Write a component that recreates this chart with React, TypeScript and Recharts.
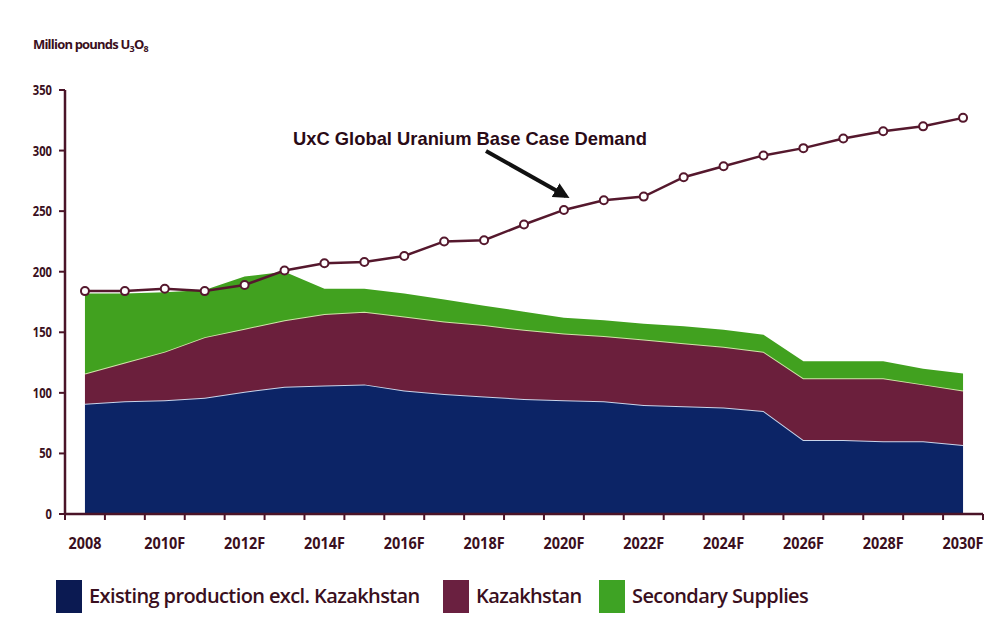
import { ComposedChart, Area, Line, XAxis, YAxis, Customized } from "recharts";

const years = [2008, 2009, 2010, 2011, 2012, 2013, 2014, 2015, 2016, 2017, 2018, 2019, 2020, 2021, 2022, 2023, 2024, 2025, 2026, 2027, 2028, 2029, 2030];
const existingProduction = [91, 93, 94, 96, 101, 105, 106, 107, 102, 99, 97, 95, 94, 93, 90, 89, 88, 85, 61, 61, 60, 60, 57];
const kazakhstan = [25, 32, 40, 50, 52, 55, 59, 60, 61, 60, 59, 57, 55, 54, 54, 52, 50, 49, 51, 51, 52, 47, 45];
const secondarySupplies = [66, 57, 49, 39, 43, 40, 21, 19, 19, 18, 16, 15, 13, 13, 13, 14, 14, 14, 14, 14, 14, 13, 14];
const baseCaseDemand = [184, 184, 186, 184, 189, 201, 207, 208, 213, 225, 226, 239, 251, 259, 262, 278, 287, 296, 302, 310, 316, 320, 327];
const yTicks = [0, 50, 100, 150, 200, 250, 300, 350];

const legendItems = [
  { label: "Existing production excl. Kazakhstan", color: "#0b1a52", x: 56 },
  { label: "Kazakhstan", color: "#6a2040", x: 443 },
  { label: "Secondary Supplies", color: "#3ea324", x: 599 },
];

const data = years.map((year, i) => ({
  year,
  existing: existingProduction[i],
  kazakhstan: kazakhstan[i],
  secondary: secondarySupplies[i],
  demand: baseCaseDemand[i],
}));

// tick marks sit between the years, labels on every other year
const xTicks = [years[0] - 0.5, ...years.flatMap((y) => [y, y + 0.5])];

const AXIS = "#4a1428";
const TEXT = "#3a0f20";

function XTick(props: any) {
  const { x, y, payload } = props;
  const v = payload.value;
  if (v % 1 !== 0) {
    return <line x1={x} y1={y} x2={x} y2={y + 6} stroke={AXIS} strokeWidth={2} />;
  }
  if ((v - years[0]) % 2 !== 0) return <g />;
  const label = v === years[0] ? String(v) : `${v}F`;
  return (
    <text x={x} y={y + 35} textAnchor="middle" fill={TEXT} fontSize={16} fontWeight={700} fontFamily="Open Sans"
      textLength={label.length * 8.2} lengthAdjust="spacingAndGlyphs">
      {label}
    </text>
  );
}

function YTick(props: any) {
  const { x, y, payload } = props;
  const label = String(payload.value);
  return (
    <text x={x} y={y + 5} textAnchor="end" fill={TEXT} fontSize={15} fontWeight={700} fontFamily="Open Sans"
      textLength={label.length * 6.4} lengthAdjust="spacingAndGlyphs">
      {label}
    </text>
  );
}

function Annotation() {
  return (
    <g>
      <defs>
        <marker id="arrowhead" markerWidth="4" markerHeight="4" refX="3" refY="2" orient="auto">
          <path d="M0,0 L4,2 L0,4 z" fill="#111" />
        </marker>
      </defs>
      <text x={293} y={145} fontSize={19} fontWeight={700} fontFamily="Liberation Sans" fill="#2a0a16"
        textLength={354} lengthAdjust="spacingAndGlyphs">
        UxC Global Uranium Base Case Demand
      </text>
      <line x1={486} y1={151} x2={566} y2={196} stroke="#111" strokeWidth={4} markerEnd="url(#arrowhead)" />
    </g>
  );
}

export default function App() {
  return (
    <div style={{ position: "absolute", left: 0, top: 0, width: 1002, height: 640, background: "#fff", fontFamily: "Open Sans" }}>
      <svg width={240} height={30} style={{ position: "absolute", left: 0, top: 30 }}>
        <text x={33} y={19} fontSize={13} fontWeight={700} fill={TEXT} fontFamily="Open Sans" letterSpacing={-0.8}>
          Million pounds U<tspan fontSize={9} dy={3}>3</tspan><tspan dy={-3}>O</tspan><tspan fontSize={9} dy={3}>8</tspan>
        </text>
      </svg>

      <ComposedChart width={1002} height={640} data={data} margin={{ top: 90, right: 19, bottom: 96, left: 20 }}>
        <XAxis
          dataKey="year"
          type="number"
          domain={[years[0] - 0.5, years[years.length - 1] + 0.5]}
          ticks={xTicks}
          interval={0}
          tick={<XTick />}
          tickLine={false}
          tickSize={0}
          tickMargin={0}
          height={30}
          axisLine={{ stroke: AXIS, strokeWidth: 2.5 }}
        />
        <YAxis
          domain={[0, 350]}
          ticks={yTicks}
          width={45}
          tickSize={6}
          tickMargin={7}
          axisLine={{ stroke: AXIS, strokeWidth: 2.5 }}
          tickLine={{ stroke: AXIS, strokeWidth: 2 }}
          tick={<YTick />}
        />
        <Area type="linear" dataKey="existing" stackId="s" fill="#0c2466" fillOpacity={1} stroke="#c9d4ea" strokeWidth={2} isAnimationActive={false} />
        <Area type="linear" dataKey="kazakhstan" stackId="s" fill="#6b1f3c" fillOpacity={1} stroke="#cfe6a8" strokeWidth={2} isAnimationActive={false} />
        <Area type="linear" dataKey="secondary" stackId="s" fill="#41a11f" fillOpacity={1} stroke="none" isAnimationActive={false} />
        <Line
          type="linear"
          dataKey="demand"
          stroke="#55182d"
          strokeWidth={2.5}
          dot={{ r: 4, fill: "#fff", stroke: "#55182d", strokeWidth: 2 }}
          isAnimationActive={false}
        />
        <Customized component={Annotation} />
      </ComposedChart>

      <svg width={1002} height={50} style={{ position: "absolute", left: 0, top: 570 }}>
        {legendItems.map((item) => (
          <g key={item.label}>
            <rect x={item.x} y={10} width={26} height={33} fill={item.color} />
            <text x={item.x + 33} y={33} fontSize={20} fontWeight={600} fill={TEXT} fontFamily="Open Sans" letterSpacing={-0.6}>
              {item.label}
            </text>
          </g>
        ))}
      </svg>
    </div>
  );
}
